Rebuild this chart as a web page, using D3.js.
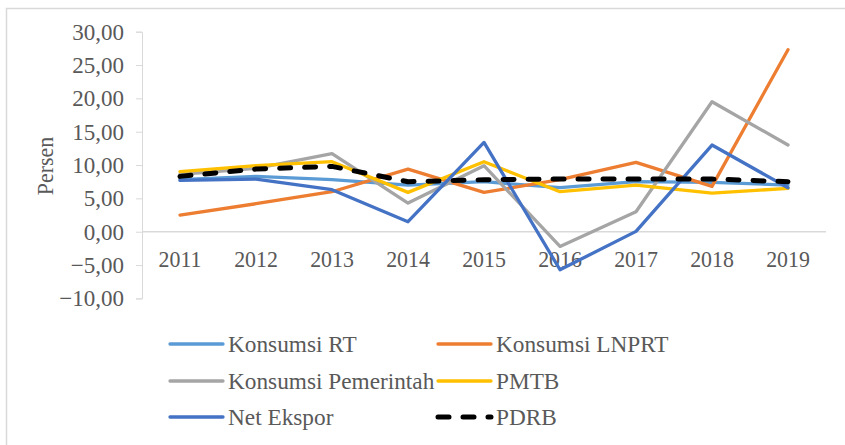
<!DOCTYPE html>
<html>
<head>
<meta charset="utf-8">
<script src="https://cdn.jsdelivr.net/npm/d3@7"></script>
<style>
  body { margin: 0; background: #fff; }
</style>
</head>
<body>
<svg id="chart" width="845" height="445"></svg>
<script>
const years = ['2011', '2012', '2013', '2014', '2015', '2016', '2017', '2018', '2019'];
const yTicks = [30, 25, 20, 15, 10, 5, 0, -5, -10];

const konsumsiRT = [7.8, 8.3, 7.8, 7.0, 7.5, 6.6, 7.5, 7.4, 7.0];
const konsumsiLNPRT = [2.5, 4.2, 6.0, 9.4, 5.9, 7.8, 10.4, 6.8, 27.3];
const konsumsiPemerintah = [8.6, 9.5, 11.7, 4.3, 9.9, -2.2, 3.0, 19.5, 13.0];
const pmtb = [9.0, 9.9, 10.5, 5.9, 10.5, 6.0, 7.0, 5.8, 6.5];
const netEkspor = [7.7, 7.9, 6.3, 1.5, 13.4, -5.7, 0.05, 13.0, 6.6];
const pdrb = [8.3, 9.4, 9.8, 7.5, 7.8, 7.9, 7.9, 7.9, 7.5];

const series = [
  { name: 'Konsumsi RT', values: konsumsiRT, color: '#5b9bd5' },
  { name: 'Konsumsi LNPRT', values: konsumsiLNPRT, color: '#ed7d31' },
  { name: 'Konsumsi Pemerintah', values: konsumsiPemerintah, color: '#a5a5a5' },
  { name: 'PMTB', values: pmtb, color: '#ffc000' },
  { name: 'Net Ekspor', values: netEkspor, color: '#4472c4' },
  { name: 'PDRB', values: pdrb, color: '#000000', dashed: true }
];

const FONT = '"Liberation Serif", "DejaVu Serif", "Times New Roman", serif';
const svg = d3.select('#chart');
const fmt = v => d3.format('.2f')(v).replace('.', ',');

// squeeze/stretch text a little to match the source picture
function fit(sel, factor) {
  sel.each(function () {
    const w = this.getComputedTextLength();
    d3.select(this).attr('textLength', w * factor).attr('lengthAdjust', 'spacingAndGlyphs');
  });
}
function label(sel, size = 23) {
  return sel.attr('font-family', FONT).style('font-family', FONT)
    .style('font-size', size + 'px').attr('fill', '#595959');
}

// outer chart frame
svg.append('rect').attr('x', 6.5).attr('y', 8.5).attr('width', 860).attr('height', 460)
  .attr('fill', 'none').attr('stroke', '#d9d9d9').attr('stroke-width', 1.5);

const x = d3.scaleBand().domain(years).range([142, 826]);
const y = d3.scaleLinear().domain([-10, 30]).range([298.4, 31.7]);

// y axis
const yAxis = svg.append('g').attr('transform', 'translate(142,0)')
  .call(d3.axisLeft(y).tickValues(yTicks).tickSize(6).tickPadding(12).tickFormat(fmt));
yAxis.attr('font-family', FONT);
yAxis.select('.domain').attr('stroke', '#d9d9d9');
yAxis.selectAll('.tick line').attr('stroke', '#d9d9d9');
label(yAxis.selectAll('.tick text'));
fit(yAxis.selectAll('.tick text'), 1.0);

// zero line
svg.append('line').attr('x1', 142).attr('x2', 826).attr('y1', y(0)).attr('y2', y(0))
  .attr('stroke', '#d9d9d9').attr('stroke-width', 1.5);

// category labels
const xl = label(svg.append('g').selectAll('text').data(years).join('text'))
  .attr('x', d => x(d) + x.bandwidth() / 2)
  .attr('y', 267)
  .attr('text-anchor', 'middle')
  .text(d => d);
fit(xl, 0.95);

// y title
const yt = label(svg.append('text'))
  .attr('transform', 'translate(53,166) rotate(-90)')
  .attr('text-anchor', 'middle')
  .text('Persen');
fit(yt, 0.95);

// lines
const line = d3.line()
  .x((d, i) => x(years[i]) + x.bandwidth() / 2)
  .y(d => y(d));

series.forEach(s => {
  svg.append('path')
    .datum(s.values)
    .attr('d', line)
    .attr('fill', 'none')
    .attr('stroke', s.color)
    .attr('stroke-width', s.dashed ? 5 : 3.3)
    .attr('stroke-linejoin', 'round')
    .attr('stroke-linecap', 'round')
    .attr('stroke-dasharray', s.dashed ? '11,14' : null);
});

// legend
const legendCols = [168, 436];
const legendRows = [344, 381, 417];
series.forEach((s, i) => {
  const lx = legendCols[i % 2];
  const ly = legendRows[Math.floor(i / 2)];
  svg.append('line')
    .attr('x1', lx + 2).attr('x2', lx + 55)
    .attr('y1', ly).attr('y2', ly)
    .attr('stroke', s.color)
    .attr('stroke-width', s.dashed ? 5 : 3.3)
    .attr('stroke-linecap', 'round')
    .attr('stroke-dasharray', s.dashed ? '11,14' : null);
  const t = label(svg.append('text'), 24)
    .attr('x', lx + 60).attr('y', ly + 8)
    .text(s.name);
  fit(t, 0.97);
});
</script>
</body>
</html>
